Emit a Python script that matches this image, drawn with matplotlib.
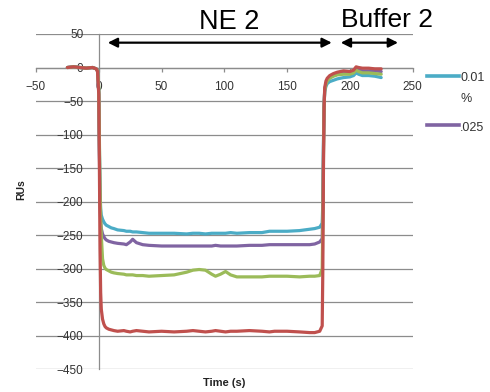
import matplotlib
matplotlib.use("Agg")
import matplotlib.pyplot as plt
from matplotlib.lines import Line2D

plt.rcParams['font.family'] = ['Liberation Sans', 'DejaVu Sans']

# Sensorgram time axis (s)
time_s = [-25, -20, -15, -10, -5, -2, -1, 0, 0.5, 1,
          1.5, 2, 3, 4, 5, 6, 8, 10, 12, 15,
          20, 22, 25, 27, 30, 35, 40, 50, 60, 70,
          75, 80, 85, 90, 93, 97, 101, 105, 110, 120,
          130, 136, 140, 150, 160, 168, 172, 176, 178, 178.5,
          179, 179.5, 180, 181, 182, 184, 187, 190, 195, 200,
          203, 205, 207, 210, 215, 220, 225]

# Response (RU) for each surfactant concentration
ru_001 = [0, 1, 0, -1, 0, -2, -5, -35, -120, -185,
          -210, -220, -226, -230, -233, -235, -237, -239, -240, -242,
          -243, -244, -244, -245, -245, -246, -247, -247, -247, -248,
          -247, -247, -248, -247, -247, -247, -247, -246, -247, -246,
          -246, -244, -244, -244, -243, -241, -240, -238, -232, -200,
          -110, -55, -36, -28, -24, -21, -19, -17, -15, -14,
          -12, -8, -10, -12, -12, -13, -15]

ru_025 = [0, 1, 0, -1, 0, -2, -5, -38, -130, -200,
          -228, -240, -248, -252, -255, -257, -259, -260, -261, -262,
          -263, -264, -260, -256, -261, -264, -265, -266, -266, -266,
          -266, -266, -266, -266, -265, -266, -266, -266, -266, -265,
          -265, -264, -264, -264, -264, -264, -263, -260, -255, -210,
          -120, -55, -33, -24, -19, -15, -12, -10, -8, -8,
          -7, -3, -4, -5, -5, -5, -6]

ru_c3 = [0, 1, 0, -1, 0, -2, -5, -30, -110, -180,
         -225, -250, -285, -295, -299, -301, -303, -305, -306, -307,
         -308, -309, -309, -309, -310, -310, -311, -310, -309, -305,
         -302, -301, -302, -308, -311, -308, -304, -309, -312, -312,
         -312, -311, -311, -311, -312, -311, -311, -310, -300, -230,
         -130, -58, -34, -25, -20, -16, -13, -11, -10, -10,
         -8, -4, -6, -8, -8, -9, -10]

ru_c4 = [0, 1, 0, -1, 0, -2, -6, -40, -150, -270,
         -335, -360, -375, -382, -386, -388, -390, -391, -392, -393,
         -392, -393, -394, -393, -392, -393, -394, -393, -394, -393,
         -392, -393, -394, -393, -392, -393, -394, -393, -393, -392,
         -393, -394, -393, -393, -394, -395, -395, -393, -385, -300,
         -150, -60, -30, -20, -16, -12, -9, -7, -5, -6,
         -4, 1, 0, -1, -1, -2, -2]

series = [(ru_001, '#4BACC6', '0.01\n%'),
          (ru_025, '#8064A2', '.025'),
          (ru_c3, '#9BBB59', None),
          (ru_c4, '#C0504D', None)]

x_ticks = [-50, 0, 50, 100, 150, 200, 250]
y_ticks = list(range(-450, 51, 50))

fig = plt.figure(figsize=(4.9, 3.92), dpi=100)
ax = fig.add_axes([0.0735, 0.0574, 0.7685, 0.856])

for vals, col, lab in series:
    assert len(vals) == len(time_s)
    ax.plot(time_s, vals, color=col, lw=2.3, solid_joinstyle='round',
            solid_capstyle='round', zorder=3)

ax.set_xlim(-50, 250)
ax.set_ylim(-450, 50)
ax.set_xticks(x_ticks)
ax.set_yticks(y_ticks)

grid_col = '#8c8c8c'
for s in ['top', 'right']:
    ax.spines[s].set_visible(False)
ax.spines['left'].set_position(('data', 0))
ax.spines['bottom'].set_position(('data', 0))
for s in ['left', 'bottom']:
    ax.spines[s].set_color(grid_col)
    ax.spines[s].set_linewidth(0.9)
ax.yaxis.grid(True, color=grid_col, lw=0.9, zorder=0)
ax.set_axisbelow(True)

ax.tick_params(axis='y', length=0, pad=11, labelsize=8.5, labelcolor='#333333')
ax.tick_params(axis='x', direction='out', length=3, width=0.9, color=grid_col,
               pad=7, labelsize=8.5, labelcolor='#333333')

fig.text(0.043, 0.515, 'RUs', rotation=90, fontsize=7.5, fontweight='bold',
         color='#222222', ha='center', va='center')
fig.text(0.457, 0.023, 'Time (s)', fontsize=8, fontweight='bold',
         color='#222222', ha='center', va='center')

# Phase annotations
arrow_kw = dict(arrowstyle='<|-|>', color='black', lw=1.6,
                mutation_scale=14, shrinkA=0, shrinkB=0)
ax.annotate('', xy=(185.6, 37), xytext=(7.2, 37), arrowprops=arrow_kw,
            annotation_clip=False)
ax.annotate('', xy=(238.4, 37), xytext=(192.8, 37), arrowprops=arrow_kw,
            annotation_clip=False)
fig.text(0.467, 0.925, 'NE 2', fontsize=19.5, ha='center', va='baseline')
fig.text(0.790, 0.932, 'Buffer 2', fontsize=19, ha='center', va='baseline')

# Legend entries drawn beside the plot area
leg_rows = [(0.807, series[0]), (0.680, series[1])]
for y, (_, col, lab) in leg_rows:
    fig.add_artist(Line2D([0.872, 0.937], [y, y], color=col, lw=2.6,
                          transform=fig.transFigure))
    fig.text(0.939, y + 0.009, lab, fontsize=9, color='#333333',
             ha='left', va='top', linespacing=2.0)

fig.savefig('out.png', dpi=100)
